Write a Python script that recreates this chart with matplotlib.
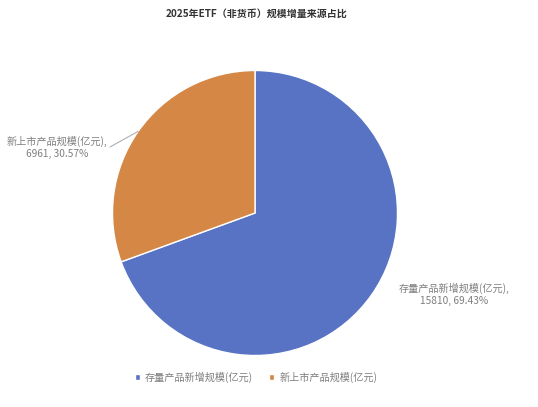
import matplotlib
matplotlib.use('Agg')
import matplotlib.pyplot as plt
import numpy as np

plt.rcParams['font.family'] = ['Noto Sans CJK SC', 'DejaVu Sans']

categories = ['存量产品新增规模(亿元)', '新上市产品规模(亿元)']
values = [15810, 6961]
percents = ['69.43%', '30.57%']
colors = ['#5873c4', '#d58745']

W, H = 538, 407
fig = plt.figure(figsize=(W / 100, H / 100), dpi=100)

# pie centre (255, 213) px from top, radius ~142.5 px
cx, cy, r = 255, 213, 142.5
ax = fig.add_axes([(cx - r) / W, (H - cy - r) / H, 2 * r / W, 2 * r / H])
wedges, _ = ax.pie(values, colors=colors, startangle=90, counterclock=False,
                   radius=1, wedgeprops=dict(edgecolor='white', linewidth=1))
ax.set_xlim(-1, 1)
ax.set_ylim(-1, 1)
ax.set_aspect('equal')
ax.axis('off')

fig.text(257 / W, 1 - 14 / H, '2025年ETF（非货币）规模增量来源占比',
         ha='center', va='center', fontsize=7.2, fontweight='bold', color='#333333')

label_col = '#7f7f7f'
# label positions in figure pixels (x, y from bottom)
label_pos = [(454, H - 294), (57, H - 147.5)]
for i, w in enumerate(wedges):
    txt = '%s,\n%d, %s' % (categories[i], values[i], percents[i])
    fig.text(label_pos[i][0] / W, label_pos[i][1] / H, txt, ha='center', va='center',
             multialignment='center', fontsize=7.3, color=label_col, linespacing=1.25)

# leader line for the smaller slice
mid = np.deg2rad((wedges[1].theta1 + wedges[1].theta2) / 2)
ax.annotate('', xy=(np.cos(mid), np.sin(mid)), xytext=(110, H - 147),
            textcoords='figure pixels',
            arrowprops=dict(arrowstyle='-', color='#b0b0b0', lw=0.8, shrinkA=0, shrinkB=0))

leg = ax.legend(wedges, categories, loc='center', bbox_to_anchor=(256 / W, 30 / H),
                bbox_transform=fig.transFigure, ncol=2, frameon=False, fontsize=7.3,
                handlelength=0.5, handleheight=0.5, handletextpad=0.5, columnspacing=1.6)
for t in leg.get_texts():
    t.set_color(label_col)

fig.savefig('out.png', dpi=100, facecolor='white')
